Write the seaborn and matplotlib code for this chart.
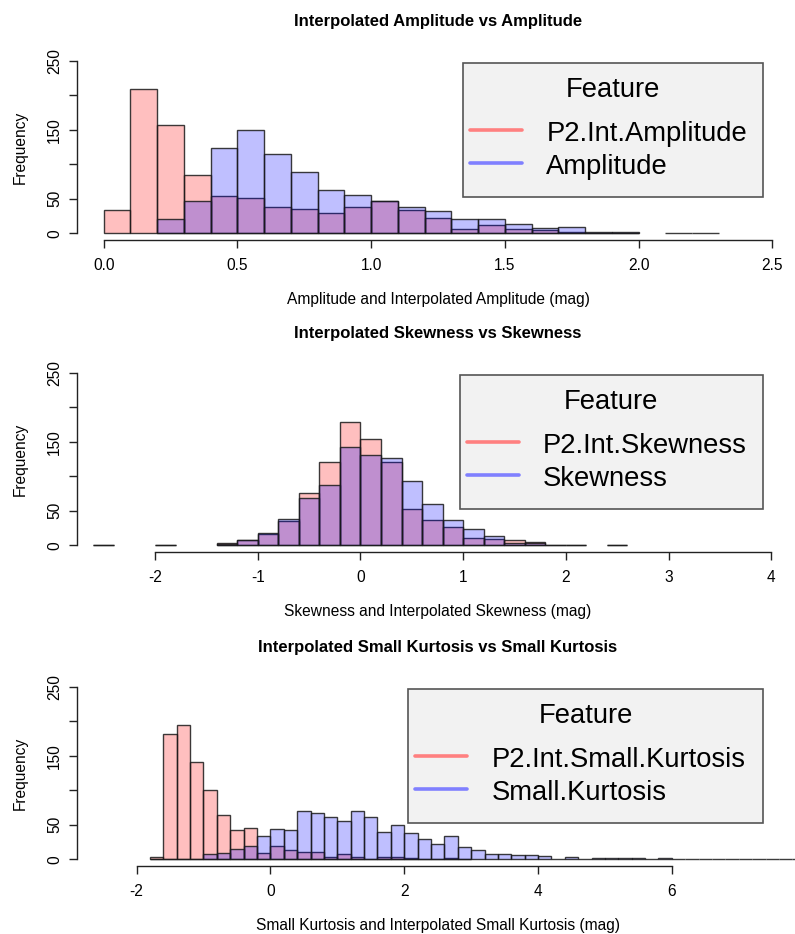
import numpy as np
import pandas as pd
import seaborn as sns
import matplotlib
matplotlib.use("Agg")
import matplotlib.pyplot as plt
from matplotlib.patches import Rectangle
from matplotlib.lines import Line2D

# ---- data (counts) ----
# panel 1: amplitude, bins of 0.1 starting at 0.0
amp_start, amp_width = 0.0, 0.1
amp_interp = [33, 209, 157, 84, 54, 51, 38, 35, 29, 38, 47, 34, 22, 6, 12, 6, 4, 2, 1, 1, 0, 0, 0]
amp_raw = [0, 0, 20, 46, 123, 150, 115, 88, 62, 56, 47, 38, 32, 21, 20, 14, 7, 9, 2, 2, 0, 1, 1]

# panel 2: skewness, bins of 0.2 starting at -2.6
skew_start, skew_width = -2.6, 0.2
skew_interp = [1, 0, 0, 1, 0, 0, 3, 8, 16, 35, 75, 121, 178, 154, 120, 53, 37, 26, 10, 9, 7, 4, 1, 1, 0, 1]
skew_raw = [1, 0, 0, 1, 0, 0, 2, 8, 18, 38, 68, 87, 142, 131, 126, 93, 59, 36, 23, 14, 3, 3, 1, 1, 0, 1]

# panel 3: small kurtosis, bins of 0.2 starting at -1.8
kurt_start, kurt_width = -1.8, 0.2
kurt_interp = [4, 181, 195, 141, 101, 64, 42, 45, 9, 19, 13, 10, 10, 3, 8, 3, 1, 3, 3, 2, 1, 1, 2, 1]
kurt_raw = [0, 0, 1, 1, 7, 9, 15, 20, 34, 44, 42, 70, 67, 62, 55, 70, 61, 39, 50, 38, 30, 22, 34, 18,
            14, 8, 8, 6, 6, 5, 1, 3, 1, 2, 2, 2, 2, 0, 2, 0, 1, 0, 0, 0, 0, 0, 0, 0, 0, 0, 0, 0, 0, 0, 0, 0, 0, 0, 0]

panels = [
    dict(title="Interpolated Amplitude vs Amplitude",
         xlabel="Amplitude and Interpolated Amplitude (mag)",
         start=amp_start, width=amp_width, red=amp_interp, blue=amp_raw,
         labels=["P2.Int.Amplitude", "Amplitude"],
         xticks=[0.0, 0.5, 1.0, 1.5, 2.0, 2.5],
         xticklabels=["0.0", "0.5", "1.0", "1.5", "2.0", "2.5"],
         xlim=(-0.1, 2.6), top=53.8, legend_left=463.3, keep_zero=False),
    dict(title="Interpolated Skewness vs Skewness",
         xlabel="Skewness and Interpolated Skewness (mag)",
         start=skew_start, width=skew_width, red=skew_interp, blue=skew_raw,
         labels=["P2.Int.Skewness", "Skewness"],
         xticks=[-2, -1, 0, 1, 2, 3, 4],
         xticklabels=["-2", "-1", "0", "1", "2", "3", "4"],
         xlim=(-2.76, 4.27), top=365.8, legend_left=460.0, keep_zero=False),
    dict(title="Interpolated Small Kurtosis vs Small Kurtosis",
         xlabel="Small Kurtosis and Interpolated Small Kurtosis (mag)",
         start=kurt_start, width=kurt_width, red=kurt_interp, blue=kurt_raw,
         labels=["P2.Int.Small.Kurtosis", "Small.Kurtosis"],
         xticks=[-2, 0, 2, 4, 6],
         xticklabels=["-2", "0", "2", "4", "6"],
         xlim=(-2.89, 7.90), top=679.9, legend_left=408.3, keep_zero=True),
]

yticks = [0, 50, 100, 150, 200, 250]
yticklabels = ["0", "50", "", "150", "", "250"]

W, H = 795, 934
sns.set_style("white")
plt.rcParams["font.family"] = ["Liberation Sans", "DejaVu Sans"]
plt.rcParams["text.color"] = "black"
plt.rcParams["axes.labelcolor"] = "black"

fig = plt.figure(figsize=(W / 100, H / 100), dpi=100)


def fx(x):
    return x / W


def fy(y):
    return 1 - y / H


def add_hist(ax, counts, start, width, rgb, keep_zero):
    n = len(counts)
    centers = start + width * (np.arange(n) + 0.5)
    df = pd.DataFrame({"center": centers, "count": counts})
    n0 = len(ax.patches)
    sns.histplot(data=df, x="center", weights="count", binwidth=width,
                 binrange=(start, start + width * n), ax=ax, stat="count")
    for p in ax.patches[n0:]:
        p.set_alpha(None)
        p.set_facecolor(rgb + (0.25,))
        p.set_edgecolor((0.1, 0.1, 0.1, 0.85))
        p.set_linewidth(1.0)
        if p.get_height() == 0 and not keep_zero:
            p.set_visible(False)


for cfg in panels:
    top = cfg["top"]
    bottom = top + 186.3
    ax = fig.add_axes([fx(77), fy(bottom), fx(799 - 77), (bottom - top) / H])
    add_hist(ax, cfg["red"], cfg["start"], cfg["width"], (1.0, 0.0, 0.0), cfg["keep_zero"])
    add_hist(ax, cfg["blue"], cfg["start"], cfg["width"], (0.0, 0.0, 1.0), cfg["keep_zero"])

    ax.set_xlim(*cfg["xlim"])
    ax.set_ylim(-10, 260)
    ax.set_xticks(cfg["xticks"])
    ax.set_xticklabels(cfg["xticklabels"])
    ax.set_yticks(yticks)
    ax.set_yticklabels(yticklabels, rotation=90, va="center")
    for s in ["top", "right"]:
        ax.spines[s].set_visible(False)
    ax.spines["left"].set_bounds(0, 250)
    ax.spines["bottom"].set_bounds(cfg["xticks"][0], cfg["xticks"][-1])
    for s in ["left", "bottom"]:
        ax.spines[s].set_color("#222222")
        ax.spines[s].set_linewidth(1.0)
    ax.tick_params(axis="both", direction="out", length=5.6, width=1.0,
                   bottom=True, left=True,
                   color="#222222", labelsize=11.2, labelcolor="black")
    ax.tick_params(axis="x", pad=7.5)
    ax.tick_params(axis="y", pad=5)
    ax.set_xlabel(cfg["xlabel"], fontsize=11.2, labelpad=13.5)
    ax.set_ylabel("Frequency", fontsize=11.2, labelpad=14)
    ax.set_title(cfg["title"], fontsize=12, fontweight="bold", pad=20)
    ax.patch.set_visible(False)

    # legend box in the R style
    left = cfg["legend_left"]
    ltop = top + 9.5
    right = 762.7
    hbox = 133.4
    fig.patches.append(Rectangle((fx(left), fy(ltop + hbox)), fx(right - left), hbox / H,
                                 transform=fig.transFigure, facecolor="#F2F2F2",
                                 edgecolor="#555555", linewidth=1.2, zorder=5))
    fig.text(fx((left + right) / 2), fy(ltop + 33.4), "Feature", ha="center",
             va="baseline", fontsize=19.7, zorder=6)
    for i, (lab, col) in enumerate(zip(cfg["labels"], [(1, 0.5, 0.5), (0.5, 0.5, 1)])):
        ly = ltop + 66.7 + 33.3 * i
        fig.lines.append(Line2D([fx(left + 7), fx(left + 59)], [fy(ly), fy(ly)],
                                transform=fig.transFigure, color=col, linewidth=2.6,
                                zorder=6))
        fig.text(fx(left + 83), fy(ly + 10.7), lab, ha="left", va="baseline",
                 fontsize=19.7, zorder=6)

fig.savefig("out.png", dpi=100)
